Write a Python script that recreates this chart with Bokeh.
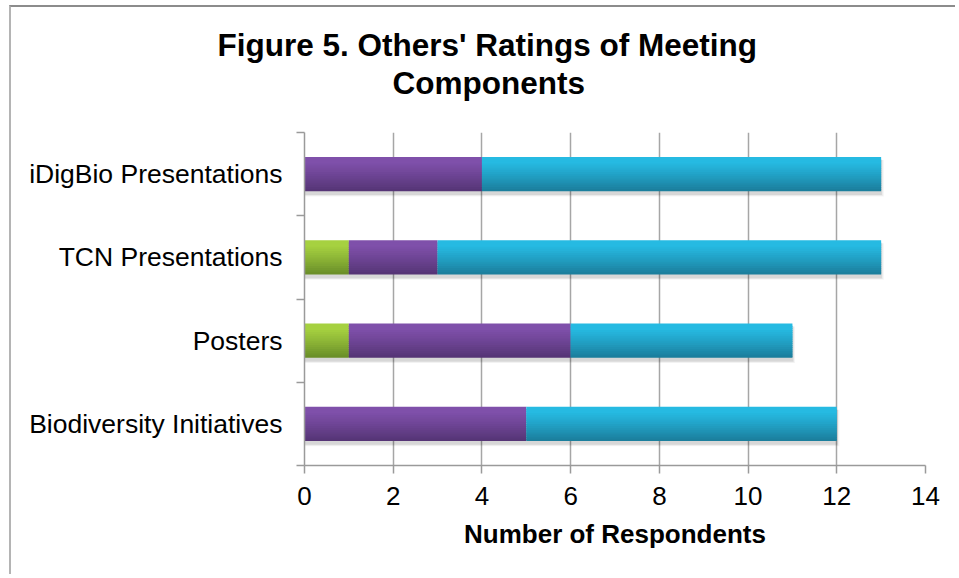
import numpy as np
from bokeh.plotting import figure
from bokeh.models import FixedTicker, Range1d, Title
from bokeh.embed import file_html
from bokeh.resources import INLINE

# ---- data ----
categories = ["Biodiversity Initiatives", "Posters", "TCN Presentations", "iDigBio Presentations"]
green_vals = [0, 1, 1, 0]
purple_vals = [5, 5, 2, 4]
blue_vals = [7, 5, 10, 9]
x_ticks = [0, 2, 4, 6, 8, 10, 12, 14]
title_lines = ["Figure 5. Others' Ratings of Meeting", "Components"]
x_title = "Number of Respondents"

# ---- styles ----
FONT = "Liberation Sans"
GRAD = {
    "green": ((166, 209, 64), (104, 140, 40)),
    "purple": ((127, 80, 170), (84, 52, 116)),
    "blue": ((38, 186, 226), (27, 124, 154)),
}
BAR_H = 0.41
N_STRIPS = 16

p = figure(width=946, height=569, output_backend="svg", toolbar_location=None,
           x_range=Range1d(0, 14), y_range=Range1d(0, 4),
           min_border_left=293, min_border_right=32, min_border_top=125, min_border_bottom=111)
p.outline_line_color = None
p.background_fill_color = "white"
p.border_fill_color = "white"
p.styles = {"margin-left": "9px", "margin-top": "5px",
            "border-left": "2px solid #b4b4b4", "border-top": "2px solid #8c8c8c"}

ypos = np.arange(len(categories)) + 0.5
g = np.array(green_vals, dtype=float)
pu = np.array(purple_vals, dtype=float)
b = np.array(blue_vals, dtype=float)
totals = g + pu + b

# soft shadow under bars
for dy, grow, a in [(0.05, 0.10, 0.04), (0.045, 0.06, 0.05), (0.04, 0.03, 0.07)]:
    p.hbar(y=ypos - dy, left=0, right=totals + grow * 0.6, height=BAR_H + grow * 0.3,
           fill_color="black", fill_alpha=a, line_color=None)

segments = [("green", np.zeros_like(g), g),
            ("purple", g, g + pu),
            ("blue", g + pu, totals)]

for name, left, right in segments:
    top_c, bot_c = GRAD[name]
    sh = BAR_H / N_STRIPS
    mask = right > left
    for k in range(N_STRIPS):
        t = (k + 0.5) / N_STRIPS
        t = max(0.0, (t - 0.15) / 0.85) ** 1.1
        col = tuple(int(round(top_c[i] + (bot_c[i] - top_c[i]) * t)) for i in range(3))
        hk = sh * 1.6 if k < N_STRIPS - 1 else sh
        yk = ypos + BAR_H / 2 - k * sh - hk / 2
        p.hbar(y=yk[mask], left=left[mask], right=right[mask], height=hk,
               fill_color="#%02x%02x%02x" % col, line_color=None)

# x axis
p.xaxis.ticker = FixedTicker(ticks=x_ticks)
p.xaxis.major_label_text_font = FONT
p.xaxis.major_label_text_font_size = "26px"
p.xaxis.major_label_text_color = "black"
p.xaxis.major_label_standoff = 13
p.xaxis.major_tick_out = 8
p.xaxis.major_tick_in = 0
p.xaxis.minor_tick_line_color = None
p.xaxis.axis_line_color = "#9a9a9a"
p.xaxis.axis_line_width = 1.5
p.xaxis.major_tick_line_color = "#9a9a9a"
p.xaxis.major_tick_line_width = 1.5
p.xaxis.axis_label = x_title
p.xaxis.axis_label_text_font = FONT
p.xaxis.axis_label_text_font_style = "bold"
p.xaxis.axis_label_text_font_size = "26px"
p.xaxis.axis_label_text_color = "black"
p.xaxis.axis_label_standoff = 11

# y axis: labels at band centres, tick marks between bands
p.yaxis.ticker = FixedTicker(ticks=list(ypos), minor_ticks=list(range(len(categories) + 1)))
p.yaxis.major_label_overrides = {float(y): c for y, c in zip(ypos, categories)}
p.yaxis.major_label_text_font = FONT
p.yaxis.major_label_text_font_size = "26.5px"
p.yaxis.major_label_text_color = "black"
p.yaxis.major_tick_line_color = None
p.yaxis.major_tick_out = 0
p.yaxis.major_tick_in = 0
p.yaxis.major_label_standoff = 14
p.yaxis.minor_tick_out = 8
p.yaxis.minor_tick_in = 0
p.yaxis.minor_tick_line_color = "#9a9a9a"
p.yaxis.minor_tick_line_width = 1.5
p.yaxis.axis_line_color = "#9a9a9a"
p.yaxis.axis_line_width = 1.5

p.xgrid.ticker = FixedTicker(ticks=x_ticks)
p.xgrid.grid_line_color = "#a6a6a6"
p.xgrid.grid_line_width = 1.5
p.ygrid.visible = False

# two-line title (closest to the frame first); a tiny blank title acts as a spacer
p.title = None
p.add_layout(Title(text=" ", text_font=FONT, text_font_size="2px", standoff=28), "above")
for txt, off in [(title_lines[1], 88), (title_lines[0], -87)]:
    p.add_layout(Title(text=txt, align="left", offset=off, text_font=FONT,
                       text_font_style="bold", text_font_size="31.5px",
                       text_color="black", standoff=0), "above")

open("out.html", "w").write(file_html(p, INLINE))
